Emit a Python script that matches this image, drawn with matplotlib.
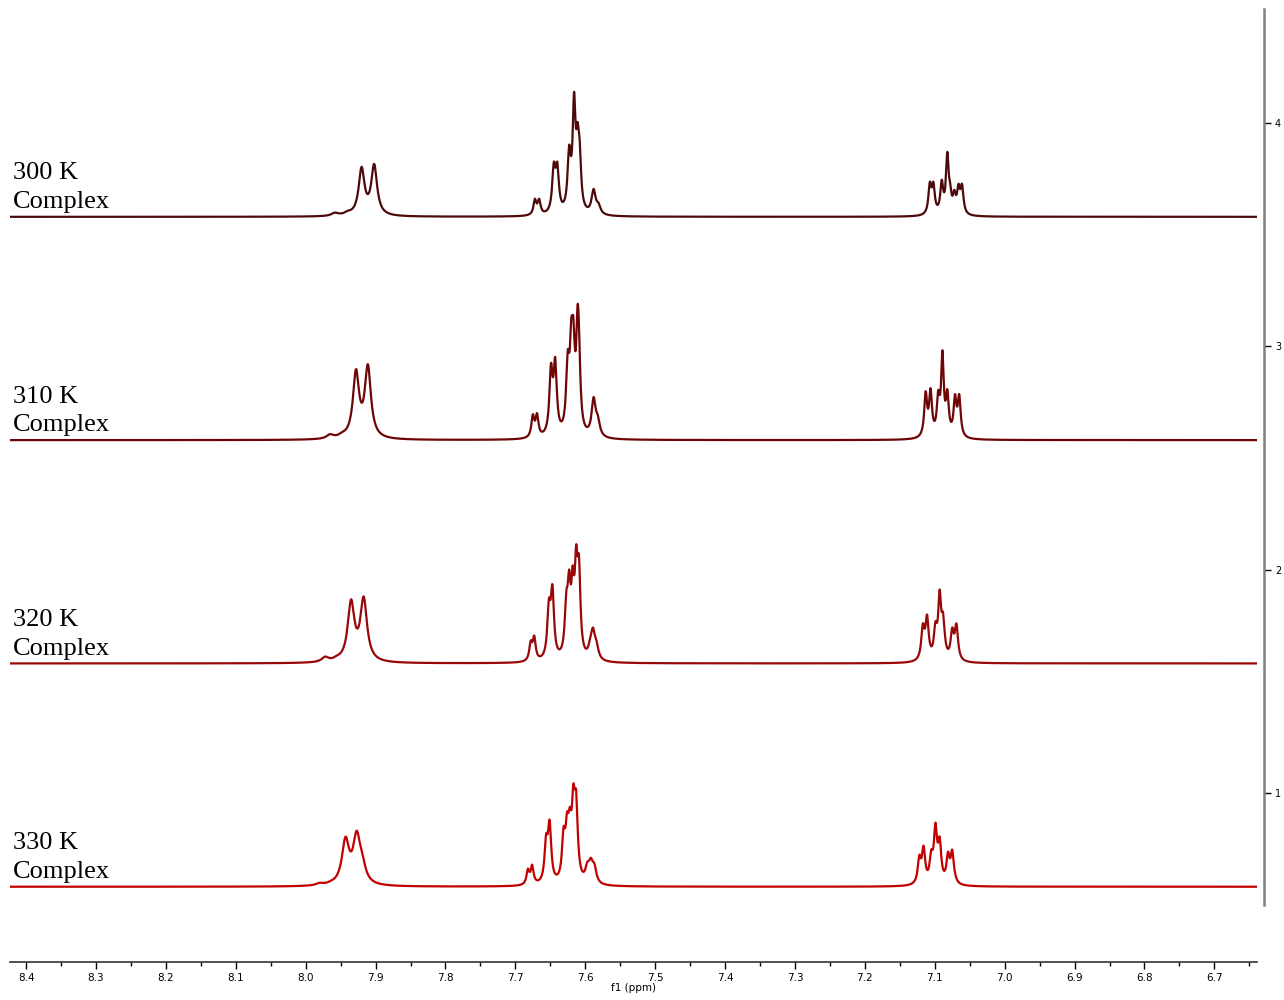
import numpy as np
import matplotlib.pyplot as plt
from matplotlib.ticker import MultipleLocator

labels = ['300 K', '310 K', '320 K', '330 K']
colors = ['#4d0a0a', '#6f0505', '#990808', '#c20000']
offsets = [3.58, 2.58, 1.58, 0.58]

# peak tables: shift (ppm), observed peak height, line width (ppm)
shift_300 = [7.958, 7.940, 7.920, 7.902,
             7.672, 7.666, 7.645, 7.640, 7.623, 7.616, 7.611, 7.608, 7.588, 7.581,
             7.107, 7.102, 7.090, 7.082, 7.078, 7.072, 7.066, 7.061]
height_300 = [0.019, 0.027, 0.224, 0.237,
              0.081, 0.081, 0.246, 0.246, 0.322, 0.560, 0.425, 0.345, 0.125, 0.063,
              0.157, 0.157, 0.166, 0.291, 0.152, 0.121, 0.148, 0.148]
width_300 = [0.012, 0.012, 0.010, 0.010,
             0.005, 0.005, 0.0055, 0.0055, 0.0055, 0.005, 0.005, 0.005, 0.007, 0.007,
             0.005, 0.005, 0.005, 0.0045, 0.0045, 0.005, 0.005, 0.005]

shift_310 = [7.965, 7.948, 7.928, 7.911,
             7.675, 7.669, 7.649, 7.643, 7.625, 7.620, 7.617, 7.611, 7.609, 7.588, 7.582,
             7.113, 7.106, 7.095, 7.089, 7.082, 7.071, 7.065]
height_310 = [0.027, 0.036, 0.318, 0.340,
              0.116, 0.121, 0.345, 0.372, 0.403, 0.546, 0.551, 0.605, 0.515, 0.193, 0.112,
              0.219, 0.233, 0.224, 0.403, 0.228, 0.206, 0.206]
width_310 = [0.012, 0.012, 0.0105, 0.0105,
             0.005, 0.005, 0.0055, 0.0055, 0.0055, 0.005, 0.005, 0.005, 0.005, 0.007, 0.007,
             0.005, 0.005, 0.005, 0.0045, 0.005, 0.005, 0.005]

shift_320 = [7.972, 7.955, 7.935, 7.917,
             7.678, 7.673, 7.652, 7.647, 7.627, 7.623, 7.618, 7.613, 7.609, 7.593, 7.589, 7.584,
             7.117, 7.111, 7.099, 7.093, 7.088, 7.075, 7.069]
height_320 = [0.031, 0.036, 0.287, 0.300,
              0.103, 0.125, 0.291, 0.354, 0.327, 0.421, 0.439, 0.533, 0.484, 0.112, 0.161, 0.103,
              0.179, 0.219, 0.188, 0.331, 0.228, 0.161, 0.179]
width_320 = [0.012, 0.012, 0.0115, 0.0115,
             0.005, 0.005, 0.0055, 0.0055, 0.0055, 0.005, 0.005, 0.005, 0.005, 0.007, 0.007, 0.007,
             0.0055, 0.0055, 0.0055, 0.005, 0.0055, 0.0055, 0.0055]

shift_330 = [7.980, 7.964, 7.943, 7.927, 7.919,
             7.682, 7.676, 7.672, 7.656, 7.651, 7.648, 7.631, 7.626, 7.622, 7.617, 7.613,
             7.597, 7.592, 7.587,
             7.122, 7.116, 7.105, 7.099, 7.093, 7.081, 7.075, 7.071]
height_330 = [0.018, 0.027, 0.224, 0.251, 0.150,
              0.081, 0.099, 0.040, 0.237, 0.300, 0.148, 0.269, 0.336, 0.358, 0.461, 0.430,
              0.112, 0.130, 0.105,
              0.143, 0.184, 0.166, 0.287, 0.224, 0.157, 0.166, 0.063]
width_330 = [0.012, 0.012, 0.0125, 0.0125, 0.012,
             0.005, 0.005, 0.006, 0.0055, 0.0055, 0.006, 0.0055, 0.0055, 0.0055, 0.0055, 0.0055,
             0.007, 0.007, 0.007,
             0.0055, 0.0055, 0.0055, 0.0055, 0.0055, 0.0055, 0.0055, 0.006]

tables = [(shift_300, height_300, width_300),
          (shift_310, height_310, width_310),
          (shift_320, height_320, width_320),
          (shift_330, height_330, width_330)]

ppm = np.linspace(6.62, 8.45, 9000)


def lorentz(x, x0, w):
    return 1.0 / (1.0 + ((x - x0) / (w / 2.0)) ** 2)


def spectrum(shifts, heights, widths):
    s = np.array(shifts)
    h = np.array(heights)
    w = np.array(widths)
    # line amplitudes so the summed curve hits each listed peak height
    m = lorentz(s[:, None], s[None, :], w[None, :])
    amp = np.clip(np.linalg.solve(m, h), 0, None)
    return (amp[None, :] * lorentz(ppm[:, None], s[None, :], w[None, :])).sum(axis=1)


fig = plt.figure(figsize=(12.84, 10), dpi=100)
ax = fig.add_axes([10 / 1284, 0.038, 1247 / 1284, 0.962])

for lab, col, off, (s, h, w) in zip(labels, colors, offsets, tables):
    ax.plot(ppm, off + spectrum(s, h, w), color=col, lw=1.6)
    ax.text(8.4186, off + 0.168, lab, family='Liberation Serif', fontsize=19,
            va='baseline', ha='left')
    ax.text(8.4186, off + 0.040, 'Complex', family='Liberation Serif', fontsize=19,
            va='baseline', ha='left')

ax.set_xlim(8.423, 6.639)
ax.set_ylim(0.243, 4.551)

ax.spines['top'].set_visible(False)
ax.spines['left'].set_visible(False)
ax.spines['bottom'].set_color('#333333')
ax.spines['bottom'].set_linewidth(1.2)
ax.spines['right'].set_position(('outward', 5))
ax.spines['right'].set_bounds(0.498, 4.51)
ax.spines['right'].set_color('#808080')
ax.spines['right'].set_linewidth(1.8)

ax.xaxis.set_major_locator(MultipleLocator(0.1))
ax.xaxis.set_minor_locator(MultipleLocator(0.05))
ax.tick_params(axis='x', which='major', direction='out', length=5, width=1,
               labelsize=7.5, pad=3)
ax.tick_params(axis='x', which='minor', direction='out', length=3, width=1)
ax.set_xlabel('f1 (ppm)', fontsize=7.5, labelpad=0)

ax.yaxis.tick_right()
ax.set_yticks([1, 2, 3, 4])
ax.tick_params(axis='y', direction='out', length=5, width=1, labelsize=7, pad=3)

fig.savefig('out.png', dpi=100)
